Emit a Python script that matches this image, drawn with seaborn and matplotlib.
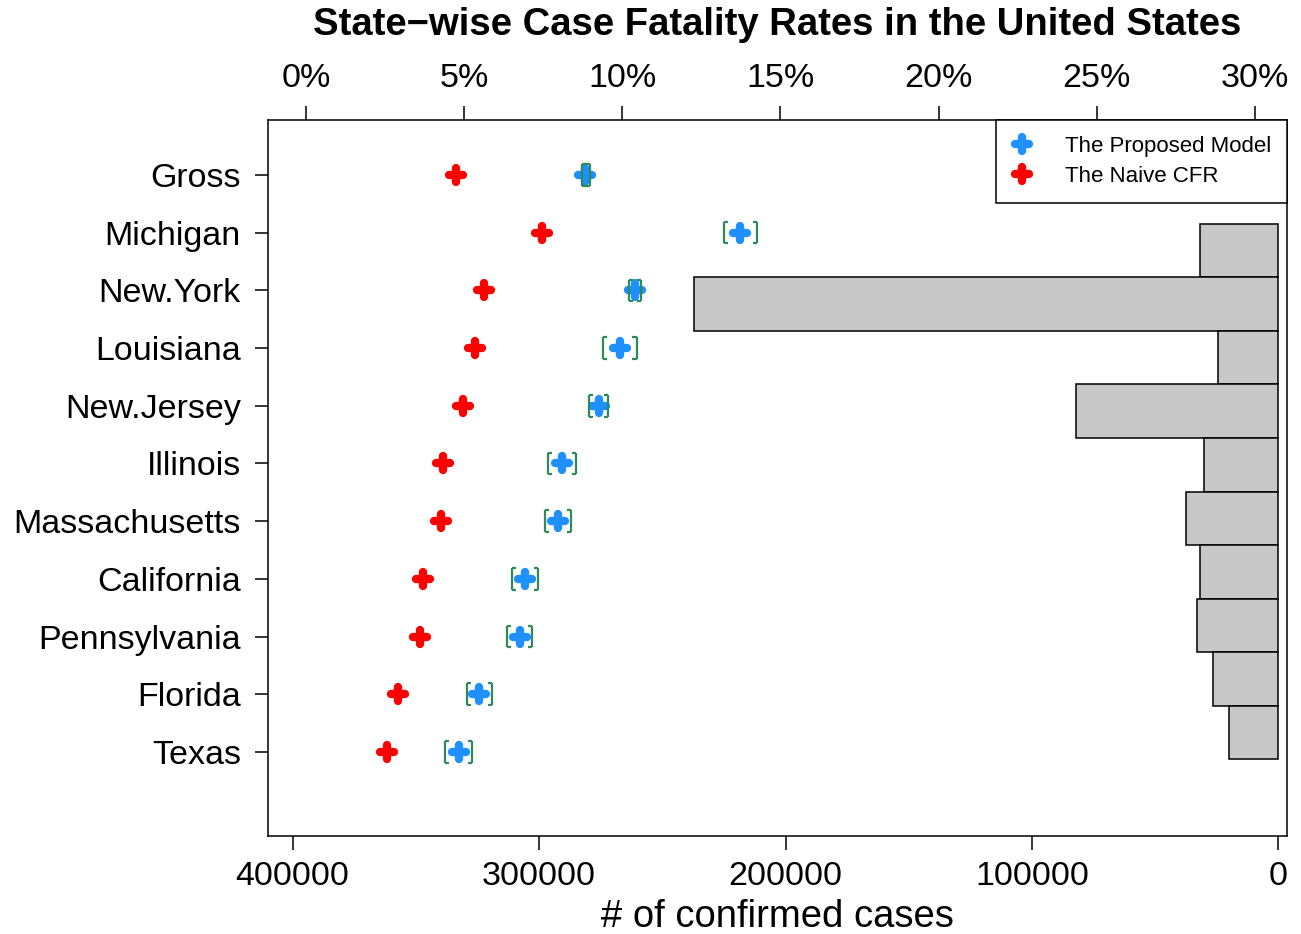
import numpy as np
import matplotlib
matplotlib.use("Agg")
import matplotlib.pyplot as plt
from matplotlib.lines import Line2D
from matplotlib.markers import MarkerStyle
import seaborn as sns

# Case fatality rates (%) per state
states = ["Gross", "Michigan", "New.York", "Louisiana", "New.Jersey", "Illinois",
          "Massachusetts", "California", "Pennsylvania", "Florida", "Texas"]
naive_cfr = [4.74, 7.47, 5.62, 5.34, 4.97, 4.33, 4.27, 3.70, 3.60, 2.92, 2.56]
model_cfr = [8.83, 13.72, 10.41, 9.92, 9.25, 8.10, 7.97, 6.92, 6.76, 5.48, 4.83]
model_lo = [8.72, 13.22, 10.21, 9.39, 8.95, 7.65, 7.56, 6.51, 6.35, 5.09, 4.39]
model_hi = [8.99, 14.27, 10.59, 10.45, 9.55, 8.54, 8.37, 7.33, 7.15, 5.87, 5.25]

# Confirmed cases per state (bars)
case_states = states[1:]
confirmed = [31800, 237300, 24500, 82300, 30300, 37500, 31900, 32900, 26600, 20200]

pct_ticks = [0, 5, 10, 15, 20, 25, 30]
case_ticks = [400000, 300000, 200000, 100000, 0]

sns.set_style("white")
plt.rcParams["font.family"] = ["Liberation Sans", "DejaVu Sans"]
plt.rcParams["text.color"] = "black"
plt.rcParams["axes.labelcolor"] = "black"
plt.rcParams["xtick.color"] = "black"
plt.rcParams["ytick.color"] = "black"

W, H = 1301, 934
fig = plt.figure(figsize=(W / 100, H / 100), dpi=100)
rect = [268 / W, 1 - 836 / H, (1287 - 268) / W, (836 - 120) / H]

# ---- bars: confirmed cases on the bottom axis ----
ax_bar = fig.add_axes(rect)
sns.barplot(x=confirmed, y=case_states, orient="h", color="#C8C8C8",
            edgecolor="black", linewidth=1.1, width=1.0, errorbar=None,
            saturation=1, ax=ax_bar)
ax_bar.set_xlim(410000, -3450)
ax_bar.set_ylim(10.93, -2.434)
ax_bar.set_yticks([])
ax_bar.set_ylabel("")
ax_bar.set_xticks(case_ticks)
ax_bar.set_xticklabels([str(t) for t in case_ticks])
ax_bar.tick_params(axis="x", bottom=True, length=10, width=1.1,
                   labelsize=24.5, pad=8, color="black", labelcolor="black")
ax_bar.set_xlabel("# of confirmed cases", fontsize=27.5, labelpad=5,
                  color="black")
for sp in ax_bar.spines.values():
    sp.set_visible(False)

# ---- points: fatality rates on the top axis ----
ax_pt = fig.add_axes(rect)
ax_pt.patch.set_alpha(0)

plus = MarkerStyle("+", capstyle="round")
sns.scatterplot(x=model_cfr, y=states, color="#1E90FF", marker=plus, s=90,
                linewidth=6, capstyle="round", ax=ax_pt, zorder=3)
sns.scatterplot(x=naive_cfr, y=states, color="#FF0000", marker=plus, s=90,
                linewidth=6, capstyle="round", ax=ax_pt, zorder=3)

# interval brackets around the model estimate
ypos = np.arange(len(states))
half = 0.187
tick = 0.13
lo = np.asarray(model_lo)
hi = np.asarray(model_hi)
green = "#2E8B57"
ax_pt.vlines(lo, ypos - half, ypos + half, color=green, lw=1.6, zorder=4)
ax_pt.vlines(hi, ypos - half, ypos + half, color=green, lw=1.6, zorder=4)
ax_pt.hlines(np.concatenate([ypos - half, ypos + half]),
             np.concatenate([lo, lo]), np.concatenate([lo, lo]) + tick,
             color=green, lw=1.6, zorder=4)
ax_pt.hlines(np.concatenate([ypos - half, ypos + half]),
             np.concatenate([hi, hi]) - tick, np.concatenate([hi, hi]),
             color=green, lw=1.6, zorder=4)

ax_pt.set_xlim(-1.201, 31.015)
ax_pt.set_ylim(11.456, -0.953)
ax_pt.set_xticks(pct_ticks)
ax_pt.set_xticklabels([f"{t}%" for t in pct_ticks])
ax_pt.xaxis.tick_top()
ax_pt.tick_params(axis="x", top=True, bottom=False, labeltop=True,
                  labelbottom=False, length=10, width=1.1, labelsize=24.5,
                  pad=9, color="black", labelcolor="black")
ax_pt.set_yticks(ypos)
ax_pt.set_yticklabels(states)
ax_pt.tick_params(axis="y", left=True, length=9.5, width=1.1, labelsize=24.5,
                  pad=10, color="black", labelcolor="black")
ax_pt.set_xlabel("")
ax_pt.set_ylabel("")
for sp in ax_pt.spines.values():
    sp.set_visible(True)
    sp.set_color("black")
    sp.set_linewidth(1.1)

handles = [
    Line2D([], [], linestyle="none", marker=plus, color="#1E90FF",
           markersize=9.5, markeredgewidth=6),
    Line2D([], [], linestyle="none", marker=plus, color="#FF0000",
           markersize=9.5, markeredgewidth=6),
]
leg = ax_pt.legend(handles, ["The Proposed Model", "The Naive CFR"],
                   loc="upper right", borderaxespad=0, fancybox=False,
                   edgecolor="black", framealpha=1, fontsize=16,
                   handlelength=0.93, handletextpad=1.47, borderpad=0.707,
                   labelspacing=0.42)
leg.get_frame().set_linewidth(1.1)
for t in leg.get_texts():
    t.set_color("black")

fig.text(777.5 / W, 1 - 25 / H,
         "State\u2212wise Case Fatality Rates in the United States",
         ha="center", va="center", fontsize=27.5, fontweight="bold",
         color="black")

fig.savefig("out.png", dpi=100)
